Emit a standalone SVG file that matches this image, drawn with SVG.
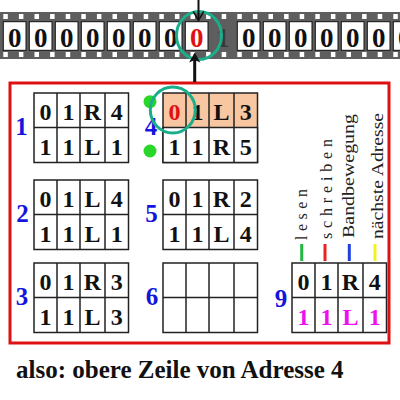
<svg xmlns="http://www.w3.org/2000/svg" width="400" height="400" viewBox="0 0 400 400">
<defs>
<style>
.tape{fill:#5e5e5e}
.hole{fill:#ffffff}
.cell{fill:#ffffff;stroke:#111;stroke-width:1}
.td{font-family:"Liberation Serif","Times New Roman",serif;font-weight:bold;font-size:27px;text-anchor:middle;fill:#111}
.tb{fill:#ffffff;stroke:#222;stroke-width:1.5}
.tl{stroke:#222;stroke-width:1.5}
.d{font-family:"Liberation Serif","Times New Roman",serif;font-weight:bold;font-size:24px;text-anchor:middle;fill:#111}
.lbl{font-family:"Liberation Serif","Times New Roman",serif;font-weight:bold;font-size:25px;text-anchor:middle;fill:#1414dc}
.rot{font-family:"Liberation Serif","Times New Roman",serif;font-size:16px;fill:#222}
.ring{fill:none;stroke:#1aae8a;stroke-width:3}
.dot{fill:#2ad62a}
</style>
<g id="table-grid">
<rect class="tb" x="0" y="0" width="94.5" height="69.5"/>
<line class="tl" x1="0" y1="34.5" x2="94.5" y2="34.5"/>
<line class="tl" x1="23" y1="0" x2="23" y2="69.5"/>
<line class="tl" x1="46" y1="0" x2="46" y2="69.5"/>
<line class="tl" x1="71" y1="0" x2="71" y2="69.5"/>
</g>
</defs>

<g id="tape">
<rect class="tape" x="0" y="12" width="400" height="47"/>
<g id="holes">
<rect class="hole" x="3.3" y="14" width="4.5" height="5"/><rect class="hole" x="18.9" y="14" width="4.5" height="5"/><rect class="hole" x="34.5" y="14" width="4.5" height="5"/><rect class="hole" x="50.1" y="14" width="4.5" height="5"/><rect class="hole" x="65.7" y="14" width="4.5" height="5"/><rect class="hole" x="81.3" y="14" width="4.5" height="5"/><rect class="hole" x="96.9" y="14" width="4.5" height="5"/><rect class="hole" x="112.5" y="14" width="4.5" height="5"/><rect class="hole" x="128.1" y="14" width="4.5" height="5"/><rect class="hole" x="143.7" y="14" width="4.5" height="5"/><rect class="hole" x="159.3" y="14" width="4.5" height="5"/><rect class="hole" x="174.9" y="14" width="4.5" height="5"/><rect class="hole" x="190.5" y="14" width="4.5" height="5"/><rect class="hole" x="206.1" y="14" width="4.5" height="5"/><rect class="hole" x="221.7" y="14" width="4.5" height="5"/><rect class="hole" x="237.3" y="14" width="4.5" height="5"/><rect class="hole" x="252.9" y="14" width="4.5" height="5"/><rect class="hole" x="268.5" y="14" width="4.5" height="5"/><rect class="hole" x="284.1" y="14" width="4.5" height="5"/><rect class="hole" x="299.7" y="14" width="4.5" height="5"/><rect class="hole" x="315.3" y="14" width="4.5" height="5"/><rect class="hole" x="330.9" y="14" width="4.5" height="5"/><rect class="hole" x="346.5" y="14" width="4.5" height="5"/><rect class="hole" x="362.1" y="14" width="4.5" height="5"/><rect class="hole" x="377.7" y="14" width="4.5" height="5"/><rect class="hole" x="393.3" y="14" width="4.5" height="5"/>
<rect class="hole" x="3.3" y="52" width="4.5" height="5"/><rect class="hole" x="18.9" y="52" width="4.5" height="5"/><rect class="hole" x="34.5" y="52" width="4.5" height="5"/><rect class="hole" x="50.1" y="52" width="4.5" height="5"/><rect class="hole" x="65.7" y="52" width="4.5" height="5"/><rect class="hole" x="81.3" y="52" width="4.5" height="5"/><rect class="hole" x="96.9" y="52" width="4.5" height="5"/><rect class="hole" x="112.5" y="52" width="4.5" height="5"/><rect class="hole" x="128.1" y="52" width="4.5" height="5"/><rect class="hole" x="143.7" y="52" width="4.5" height="5"/><rect class="hole" x="159.3" y="52" width="4.5" height="5"/><rect class="hole" x="174.9" y="52" width="4.5" height="5"/><rect class="hole" x="190.5" y="52" width="4.5" height="5"/><rect class="hole" x="206.1" y="52" width="4.5" height="5"/><rect class="hole" x="221.7" y="52" width="4.5" height="5"/><rect class="hole" x="237.3" y="52" width="4.5" height="5"/><rect class="hole" x="252.9" y="52" width="4.5" height="5"/><rect class="hole" x="268.5" y="52" width="4.5" height="5"/><rect class="hole" x="284.1" y="52" width="4.5" height="5"/><rect class="hole" x="299.7" y="52" width="4.5" height="5"/><rect class="hole" x="315.3" y="52" width="4.5" height="5"/><rect class="hole" x="330.9" y="52" width="4.5" height="5"/><rect class="hole" x="346.5" y="52" width="4.5" height="5"/><rect class="hole" x="362.1" y="52" width="4.5" height="5"/><rect class="hole" x="377.7" y="52" width="4.5" height="5"/><rect class="hole" x="393.3" y="52" width="4.5" height="5"/>
</g>
<g id="cells">
<rect class="cell" x="3.3" y="21.7" width="22.7" height="28.6"/><text class="td" x="14.7" y="47">0</text>
<rect class="cell" x="29.3" y="21.7" width="22.7" height="28.6"/><text class="td" x="40.7" y="47">0</text>
<rect class="cell" x="55.3" y="21.7" width="22.7" height="28.6"/><text class="td" x="66.7" y="47">0</text>
<rect class="cell" x="81.3" y="21.7" width="22.7" height="28.6"/><text class="td" x="92.7" y="47">0</text>
<rect class="cell" x="107.3" y="21.7" width="22.7" height="28.6"/><text class="td" x="118.7" y="47">0</text>
<rect class="cell" x="133.3" y="21.7" width="22.7" height="28.6"/><text class="td" x="144.7" y="47">0</text>
<rect class="cell" x="159.3" y="21.7" width="22.7" height="28.6"/><text class="td" x="170.7" y="47">0</text>
<rect class="cell" x="185.3" y="21.7" width="22.7" height="28.6"/><text class="td" x="196.7" y="47" style="fill:#e01010">0</text>
<text class="td" x="222.7" y="47" style="fill:#3a3a3a">1</text>
<rect class="cell" x="237.3" y="21.7" width="22.7" height="28.6"/><text class="td" x="248.7" y="47">0</text>
<rect class="cell" x="263.3" y="21.7" width="22.7" height="28.6"/><text class="td" x="274.7" y="47">0</text>
<rect class="cell" x="289.3" y="21.7" width="22.7" height="28.6"/><text class="td" x="300.7" y="47">0</text>
<rect class="cell" x="315.3" y="21.7" width="22.7" height="28.6"/><text class="td" x="326.7" y="47">0</text>
<rect class="cell" x="341.3" y="21.7" width="22.7" height="28.6"/><text class="td" x="352.7" y="47">0</text>
<rect class="cell" x="367.3" y="21.7" width="22.7" height="28.6"/><text class="td" x="378.7" y="47">0</text>
<rect class="cell" x="393.3" y="21.7" width="22.7" height="28.6"/><text class="td" x="404.7" y="47">0</text>
</g>
</g>

<g id="program-box">
<rect x="10" y="83" width="379" height="260" fill="none" stroke="#dd1111" stroke-width="3"/>
</g>

<g id="table1" transform="translate(34,93)">
<use href="#table-grid"/>
<text class="d" x="11.5" y="27">0</text><text class="d" x="34.5" y="27">1</text><text class="d" x="58.5" y="27">R</text><text class="d" x="82.7" y="27">4</text>
<text class="d" x="11.5" y="62">1</text><text class="d" x="34.5" y="62">1</text><text class="d" x="58.5" y="62">L</text><text class="d" x="82.7" y="62">1</text>
<text class="lbl" x="-12.5" y="42">1</text>
</g>
<g id="table4" transform="translate(163,93)">
<rect x="0" y="0" width="94.5" height="34.5" fill="#f8c6a0"/>
<rect x="0" y="0" width="94.5" height="69.5" fill="none" stroke="#222" stroke-width="1.5"/>
<rect x="0" y="34.5" width="94.5" height="35" fill="#ffffff" stroke="#222" stroke-width="1.5"/>
<line class="tl" x1="23" y1="0" x2="23" y2="69.5"/>
<line class="tl" x1="46" y1="0" x2="46" y2="69.5"/>
<line class="tl" x1="71" y1="0" x2="71" y2="69.5"/>
<text class="d" x="11.5" y="27" style="fill:#e01010">0</text><text class="d" x="34.5" y="27">1</text><text class="d" x="58.5" y="27">L</text><text class="d" x="82.7" y="27">3</text>
<text class="d" x="11.5" y="62">1</text><text class="d" x="34.5" y="62">1</text><text class="d" x="58.5" y="62">R</text><text class="d" x="82.7" y="62">5</text>
<text class="lbl" x="-12" y="42">4</text>
</g>
<g id="table2" transform="translate(34,180)">
<use href="#table-grid"/>
<text class="d" x="11.5" y="27">0</text><text class="d" x="34.5" y="27">1</text><text class="d" x="58.5" y="27">L</text><text class="d" x="82.7" y="27">4</text>
<text class="d" x="11.5" y="62">1</text><text class="d" x="34.5" y="62">1</text><text class="d" x="58.5" y="62">L</text><text class="d" x="82.7" y="62">1</text>
<text class="lbl" x="-11.5" y="42">2</text>
</g>
<g id="table5" transform="translate(163,180)">
<use href="#table-grid"/>
<text class="d" x="11.5" y="27">0</text><text class="d" x="34.5" y="27">1</text><text class="d" x="58.5" y="27">R</text><text class="d" x="82.7" y="27">2</text>
<text class="d" x="11.5" y="62">1</text><text class="d" x="34.5" y="62">1</text><text class="d" x="58.5" y="62">L</text><text class="d" x="82.7" y="62">4</text>
<text class="lbl" x="-11.5" y="42">5</text>
</g>
<g id="table3" transform="translate(34,263)">
<use href="#table-grid"/>
<text class="d" x="11.5" y="27">0</text><text class="d" x="34.5" y="27">1</text><text class="d" x="58.5" y="27">R</text><text class="d" x="82.7" y="27">3</text>
<text class="d" x="11.5" y="62">1</text><text class="d" x="34.5" y="62">1</text><text class="d" x="58.5" y="62">L</text><text class="d" x="82.7" y="62">3</text>
<text class="lbl" x="-12" y="42">3</text>
</g>
<g id="table6" transform="translate(163,263)">
<use href="#table-grid"/>
<text class="lbl" x="-11" y="42">6</text>
</g>
<g id="table9" transform="translate(292,263)">
<use href="#table-grid"/>
<text class="d" x="11.5" y="27">0</text><text class="d" x="34.5" y="27">1</text><text class="d" x="58.5" y="27">R</text><text class="d" x="82.7" y="27">4</text>
<text class="d" x="11.5" y="62" style="fill:#ee10ee">1</text><text class="d" x="34.5" y="62" style="fill:#ee10ee">1</text><text class="d" x="58.5" y="62" style="fill:#ee10ee">L</text><text class="d" x="82.7" y="62" style="fill:#ee10ee">1</text>
<text class="lbl" x="-11" y="44">9</text>
</g>

<g id="legend">
<text class="rot" transform="translate(307,240) rotate(-90)" textLength="51" lengthAdjust="spacing">lesen</text>
<text class="rot" transform="translate(332,239) rotate(-90)" textLength="100" lengthAdjust="spacing">schreiben</text>
<text class="rot" transform="translate(353.5,238) rotate(-90)" textLength="124" lengthAdjust="spacingAndGlyphs">Bandbewegung</text>
<text class="rot" transform="translate(383,239) rotate(-90)" textLength="126" lengthAdjust="spacingAndGlyphs">nächste Adresse</text>
<line x1="301.7" y1="244" x2="301.7" y2="261" stroke="#22b840" stroke-width="3"/>
<line x1="325" y1="244" x2="325" y2="261" stroke="#ee2020" stroke-width="3"/>
<line x1="349.3" y1="244" x2="349.3" y2="261" stroke="#2040dd" stroke-width="3"/>
<line x1="375" y1="244" x2="375" y2="261" stroke="#f5f020" stroke-width="3"/>
</g>

<g id="markers">
<circle class="dot" cx="150" cy="101.7" r="6.5"/>
<circle class="dot" cx="150" cy="151" r="6.5"/>
<ellipse class="ring" cx="172.8" cy="110" rx="22.5" ry="23"/>
<ellipse class="ring" cx="199" cy="35.5" rx="22.5" ry="24"/>
</g>

<g id="connectors">
<line x1="198.5" y1="0" x2="198.5" y2="19" stroke="#111" stroke-width="2"/>
<path d="M193.3,11.5 L198.5,20.5 L203.7,11.5" fill="none" stroke="#111" stroke-width="1.5"/>
<line x1="194.7" y1="82" x2="194.7" y2="58" stroke="#111" stroke-width="3"/>
<path d="M194.7,52.5 L200.3,62.5 L194.7,60 L189.1,62.5 Z" fill="#111"/>
</g>

<text x="16" y="377.7" font-family="Liberation Serif, Times New Roman, serif" font-weight="bold" font-size="25" fill="#111">also: obere Zeile von Adresse 4</text>
</svg>
